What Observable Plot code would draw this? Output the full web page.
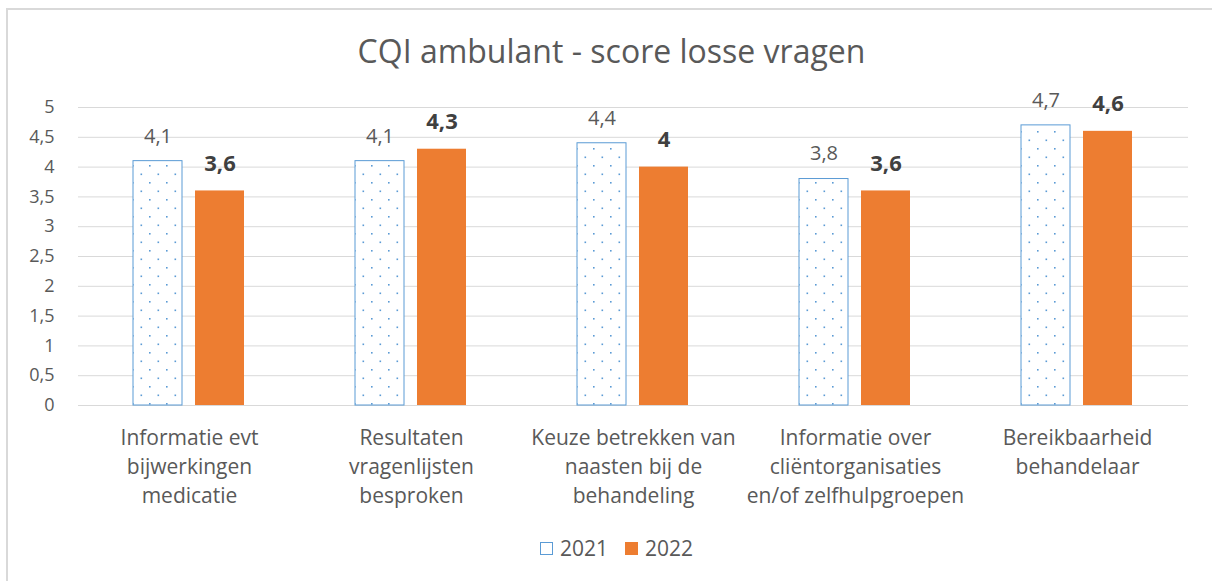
<!DOCTYPE html>
<html>
<head>
<meta charset="utf-8">
<script src="https://cdn.jsdelivr.net/npm/d3@7"></script>
<script src="https://cdn.jsdelivr.net/npm/@observablehq/plot@0.6"></script>
<style>
  html, body { margin: 0; padding: 0; background: #fff; }
  #wrap { position: relative; width: 1212px; height: 581px; overflow: hidden; font-family: "Open Sans", sans-serif; }
  #frame { position: absolute; left: 6px; top: 8px; width: 1300px; height: 700px; border-left: 2px solid #d9d9d9; border-top: 2px solid #d9d9d9; }
  #chart { position: absolute; left: 0; top: 0; }
  #title { position: absolute; left: 0; width: 1223px; top: 35px; text-align: center; font-size: 32px; line-height: 1; color: #595959; white-space: nowrap; }
  #legend { position: absolute; top: 537px; left: 540px; height: 22px; display: flex; align-items: center; font-size: 21px; color: #595959; }
  .sw { display: inline-block; width: 13px; height: 13px; margin-right: 7px; box-sizing: border-box; }
  .item { display: flex; align-items: center; margin-right: 17px; }
</style>
</head>
<body>
<div id="wrap">
  <div id="frame"></div>
  <div id="chart"></div>
  <div id="title">CQI ambulant - score losse vragen</div>
  <div id="legend"></div>
</div>
<script>
const categories = [
  "Informatie evt bijwerkingen medicatie",
  "Resultaten vragenlijsten besproken",
  "Keuze betrekken van naasten bij de behandeling",
  "Informatie over cliëntorganisaties en/of zelfhulpgroepen",
  "Bereikbaarheid behandelaar"
];
const categoryLabels = [
  "Informatie evt\nbijwerkingen\nmedicatie",
  "Resultaten\nvragenlijsten\nbesproken",
  "Keuze betrekken van\nnaasten bij de\nbehandeling",
  "Informatie over\ncliëntorganisaties\nen/of zelfhulpgroepen",
  "Bereikbaarheid\nbehandelaar"
];
const years = ["2021", "2022"];
const values2021 = [4.1, 4.1, 4.4, 3.8, 4.7];
const values2022 = [3.6, 4.3, 4.0, 3.6, 4.6];
const yTicks = [0, 0.5, 1, 1.5, 2, 2.5, 3, 3.5, 4, 4.5, 5];

const fmt = d => String(d).replace(".", ",");
const rows2021 = categories.map((c, i) => ({cat: c, year: "2021", value: values2021[i]}));
const rows2022 = categories.map((c, i) => ({cat: c, year: "2022", value: values2022[i]}));
const labelOf = new Map(categories.map((c, i) => [c, categoryLabels[i]]));

const blue = "#5B9BD5";
const orange = "#ED7D31";

const chart = Plot.plot({
  width: 1212,
  height: 581,
  marginLeft: 77,
  marginRight: 24,
  marginTop: 107,
  marginBottom: 176,
  style: {fontFamily: "'Open Sans', sans-serif", background: "transparent"},
  fx: {domain: categories, padding: 0, axis: null, label: null},
  x: {domain: years, paddingInner: 0.2063, paddingOuter: 0.8667, axis: null},
  y: {domain: [0, 5], axis: null},
  marks: [
    Plot.ruleY(yTicks, {stroke: "#d9d9d9", strokeWidth: 1}),
    Plot.axisY({ticks: yTicks, tickSize: 0, tickPadding: 24, tickFormat: fmt, fontSize: 18, color: "#595959", label: null}),
    Plot.axisFx({anchor: "bottom", tickSize: 0, tickPadding: 19, tickFormat: d => labelOf.get(d), fontSize: 21, lineHeight: 1.38, lineAnchor: "top", color: "#595959", label: null}),
    Plot.barY(rows2021, {fx: "cat", x: "year", y: "value", fill: "url(#dots2021)", stroke: blue, strokeWidth: 1}),
    Plot.barY(rows2022, {fx: "cat", x: "year", y: "value", fill: orange}),
    Plot.text(rows2021, {fx: "cat", x: "year", y: "value", text: d => fmt(d.value), dy: -25, fontSize: 20, fill: "#595959", lineAnchor: "middle"}),
    Plot.text(rows2022, {fx: "cat", x: "year", y: "value", text: d => fmt(d.value), dy: -27, fontSize: 22, fontWeight: "bold", fill: "#404040", lineAnchor: "middle"})
  ]
});

d3.select(chart).insert("defs", ":first-child").html(
  `<pattern id="dots2021" patternUnits="userSpaceOnUse" width="17" height="17">
     <rect width="17" height="17" fill="#fff"/>
     <rect x="3.5" y="3.5" width="1.6" height="1.6" fill="${blue}"/>
     <rect x="12" y="12" width="1.6" height="1.6" fill="${blue}"/>
   </pattern>`
);

document.getElementById("chart").appendChild(chart);

const legend = document.getElementById("legend");
years.forEach((y, i) => {
  const item = document.createElement("div");
  item.className = "item";
  const sw = document.createElement("span");
  sw.className = "sw";
  if (i === 0) { sw.style.border = `1.5px solid ${blue}`; sw.style.background = "#fff"; }
  else { sw.style.background = orange; }
  item.appendChild(sw);
  item.appendChild(document.createTextNode(y));
  legend.appendChild(item);
});
</script>
</body>
</html>
